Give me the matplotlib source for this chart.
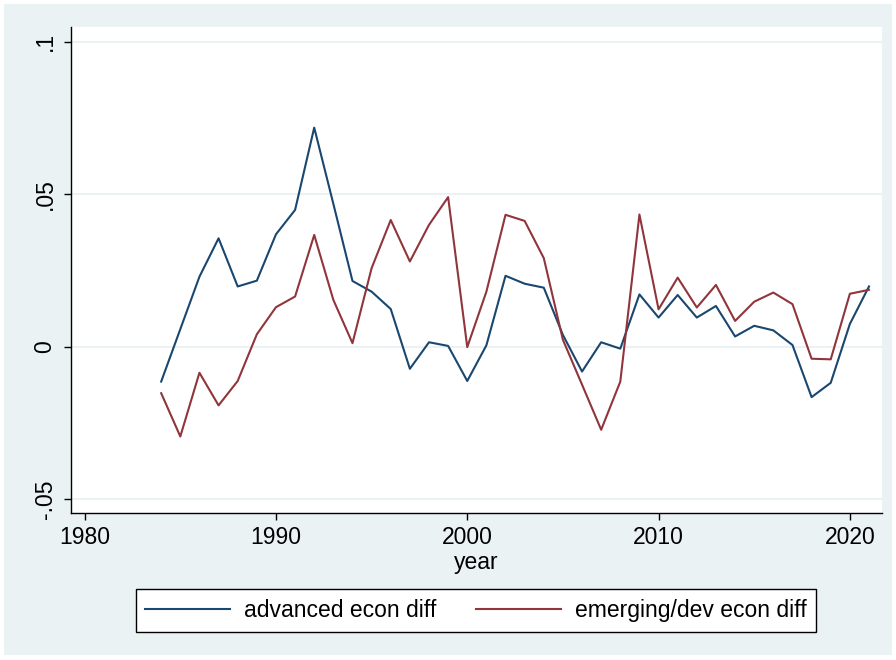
#!/usr/bin/env python3
import matplotlib
matplotlib.use("Agg")
import matplotlib.pyplot as plt
from matplotlib.patches import Rectangle
from matplotlib.ticker import FixedLocator

# data
years = list(range(1984, 2022))
advanced = [-0.0115, 0.0057, 0.0229, 0.0355, 0.0197, 0.0216, 0.0368, 0.0448, 0.0718, 0.0468,
            0.0215, 0.0180, 0.0123, -0.0073, 0.0014, 0.0002, -0.0113, 0.0004, 0.0232, 0.0206,
            0.0193, 0.0038, -0.0082, 0.0014, -0.0007, 0.0171, 0.0095, 0.0169, 0.0095, 0.0133,
            0.0033, 0.0068, 0.0053, 0.0005, -0.0166, -0.0119, 0.0074, 0.0197]
emerging = [-0.0153, -0.0295, -0.0086, -0.0193, -0.0113, 0.0040, 0.0129, 0.0164, 0.0366, 0.0153,
            0.0011, 0.0257, 0.0415, 0.0279, 0.0399, 0.0490, -0.0002, 0.0180, 0.0432, 0.0412,
            0.0290, 0.0022, -0.0125, -0.0273, -0.0115, 0.0433, 0.0122, 0.0226, 0.0128, 0.0202,
            0.0084, 0.0147, 0.0177, 0.0139, -0.0040, -0.0042, 0.0173, 0.0186]
labels = ["advanced econ diff", "emerging/dev econ diff"]
xticks = [1980, 1990, 2000, 2010, 2020]
yticks = [-0.05, 0, 0.05, 0.1]
ytick_labels = ["-.05", "0", ".05", ".1"]

plt.rcParams["font.family"] = ["Liberation Sans", "DejaVu Sans"]
FS = 16.5
W, H = 896, 660
fig = plt.figure(figsize=(W / 100, H / 100), dpi=100, facecolor="white")
# stata style outer background with thin white border
fig.patches.append(Rectangle((4 / W, 5 / H), 1 - 8 / W, 1 - 9 / H, transform=fig.transFigure,
                             facecolor="#eaf2f3", edgecolor="none", zorder=-10))

ax = fig.add_axes([70.5 / W, 1 - 513 / H, (882 - 70.5) / W, (513 - 27) / H])
ax.set_facecolor("white")

ax.plot(years, advanced, color="#1a476f", lw=1.5, label=labels[0])
ax.plot(years, emerging, color="#90353b", lw=1.5, label=labels[1])

ax.set_xlim(1979.26, 2021.68)
ax.set_ylim(-0.0546, 0.1048)
ax.xaxis.set_major_locator(FixedLocator(xticks))
ax.set_yticks(yticks)
ax.set_yticklabels(ytick_labels, rotation=90, va="center")
ax.tick_params(axis="both", labelsize=FS, length=5, width=1, color="black", direction="out")
ax.tick_params(axis="y", pad=5)
ax.tick_params(axis="x", pad=4)
ax.grid(axis="y", color="#eaf2f3", lw=1.5)
ax.set_axisbelow(True)

for s in ["top", "right"]:
    ax.spines[s].set_visible(False)
for s in ["left", "bottom"]:
    ax.spines[s].set_color("black")
    ax.spines[s].set_linewidth(1)

ax.set_xlabel("year", fontsize=FS, labelpad=2)

leg = fig.legend(loc="upper center", bbox_to_anchor=(476 / W, 1 - 578 / H), ncol=2,
                 fontsize=FS, frameon=True, fancybox=False, handlelength=3.7,
                 columnspacing=1.75, handletextpad=0.6, borderpad=0.42)
leg.get_frame().set_edgecolor("black")
leg.get_frame().set_linewidth(1)
leg.get_frame().set_facecolor("white")
leg.get_frame().set_alpha(1)

plt.savefig("out.png", dpi=100, facecolor=fig.get_facecolor())
